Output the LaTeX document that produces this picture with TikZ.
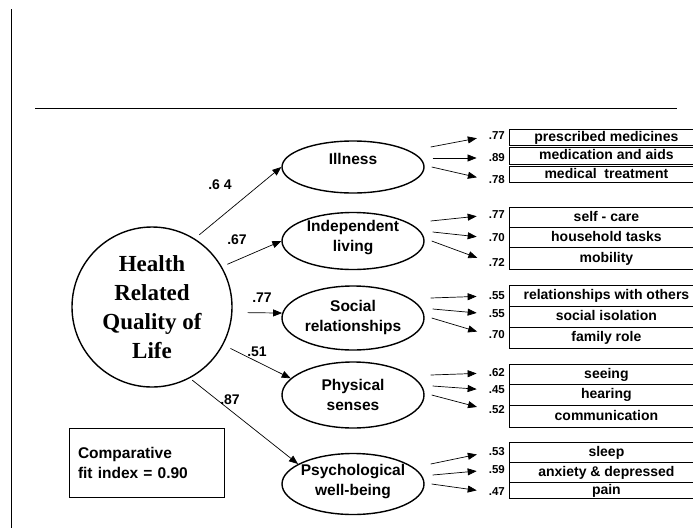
\documentclass[tikz,border=0pt]{standalone}
\usepackage{fontspec}
\setmainfont{Liberation Sans}
\newfontfamily\hrqlfont{Liberation Serif}
\usetikzlibrary{shapes.geometric,arrows.meta}
\tikzset{
  latent/.style={draw, ellipse, line width=1.4pt, inner sep=0pt},
  ltext/.style={align=center, inner sep=0pt, font=\fontsize{15.5}{20}\selectfont\bfseries},
  item/.style={draw, rectangle, line width=0.8pt, anchor=west, minimum width=194pt, minimum height=20pt, inner sep=0pt, text height=9pt, text depth=1pt, font=\fontsize{14}{16}\selectfont\bfseries},
  load/.style={anchor=east, inner sep=0pt, font=\fontsize{11.5}{12}\selectfont\bfseries},
  coef/.style={inner sep=0pt, font=\fontsize{14}{14}\selectfont\bfseries},
  regr/.style={line width=0.7pt, -{Triangle[length=9pt,width=7pt]}},
  ind/.style={line width=0.7pt, -{Triangle[length=9pt,width=7pt]}, shorten >=12pt}
}
\begin{document}
\begin{tikzpicture}[x=1pt,y=-1pt]
\useasboundingbox (0,0) rectangle (693,528);
\draw[line width=0.8pt] (11,9) -- (11,528);
\draw[line width=0.8pt] (35,108) -- (677,108);
\node[circle, draw, line width=1.4pt, minimum size=160pt, inner sep=0pt, align=center, font=\hrqlfont\bfseries\fontsize{23}{29}\selectfont] (hrql) at (152,307) {Health\\Related\\Quality of\\Life};
\node[latent, minimum width=142pt, minimum height=52pt] (ill) at (353,167) {};
\node[latent, minimum width=142pt, minimum height=57pt] (ind) at (353,241) {};
\node[latent, minimum width=142pt, minimum height=64pt] (soc) at (353,318) {};
\node[latent, minimum width=142pt, minimum height=66pt] (phy) at (353,395) {};
\node[latent, minimum width=142pt, minimum height=61pt] (psy) at (353,484) {};
\node[ltext] (illT) at (353,159) {Illness};
\node[ltext] (indT) at (353,238) {Independent\\living};
\node[ltext] (socT) at (353,317) {Social\\relationships};
\node[ltext] (phyT) at (353,395) {Physical\\senses};
\node[ltext] (psyT) at (353,482) {Psychological\\well-being};
\draw[regr, shorten <=6pt] (hrql.58) -- (ill.west);
\draw[regr, shorten <=6pt] (hrql.30) -- (ind.west);
\draw[regr] ([xshift=15pt]hrql.-4) -- (soc.176);
\draw[regr, shorten <=8pt] (hrql.-28) -- (phy.165);
\draw[regr, shorten <=3pt] (hrql.-62) -- (psy.160);
\node[coef] (c1) at (220,185) {.6 4};
\node[coef] (c2) at (237,240) {.67};
\node[coef] (c3) at (262,298) {.77};
\node[coef] (c4) at (257,352) {.51};
\node[coef] (c5) at (230,400) {.87};
\node[item, minimum height=16pt] (i11) at (509,137) {prescribed medicines};
\node[item, minimum height=17pt] (i12) at (509,155.5) {medication and aids};
\node[item, minimum height=16pt] (i13) at (509,174) {medical\ \ treatment};
\node[item] (i21) at (509,217) {self - care};
\node[item] (i22) at (509,237) {household tasks};
\node[item, minimum height=22pt] (i23) at (509,258) {mobility};
\node[item, minimum height=21pt] (i31) at (509,295.5) {relationships with others};
\node[item, minimum height=21pt] (i32) at (509,316.5) {social isolation};
\node[item, minimum height=21pt] (i33) at (509,337.5) {family role};
\node[item] (i41) at (509,374) {seeing};
\node[item, minimum height=21pt] (i42) at (509,394.5) {hearing};
\node[item, minimum height=22pt] (i43) at (509,416) {communication};
\node[item] (i51) at (509,452) {sleep};
\node[item] (i52) at (509,472) {anxiety \& depressed};
\node[item, minimum height=16pt] (i53) at (509,490) {pain};
\node[load] (l11) at (505,136) {.77};
\node[load] (l12) at (505,158) {.89};
\node[load] (l13) at (505,180) {.78};
\node[load] (l21) at (505,215) {.77};
\node[load] (l22) at (505,238) {.70};
\node[load] (l23) at (505,262) {.72};
\node[load] (l31) at (505,296) {.55};
\node[load] (l32) at (505,314) {.55};
\node[load] (l33) at (505,335) {.70};
\node[load] (l41) at (505,373) {.62};
\node[load] (l42) at (505,390) {.45};
\node[load] (l43) at (505,410) {.52};
\node[load] (l51) at (505,452) {.53};
\node[load] (l52) at (505,470) {.59};
\node[load] (l53) at (505,492) {.47};
\foreach \e/\a/\b/\c in {ill/l11/l12/l13, ind/l21/l22/l23, soc/l31/l32/l33, phy/l41/l42/l43, psy/l51/l52/l53} {
  \draw[ind] ([shift={(6,-20)}]\e.east) -- (\a.west);
  \draw[ind] ([shift={(8,-9)}]\e.east) -- (\b.west);
  \draw[ind] ([shift={(7,0)}]\e.east) -- (\c.west);
}
\node[draw, line width=0.8pt, minimum width=155pt, minimum height=69pt, text width=137pt, align=left, inner sep=0pt, font=\fontsize{15.5}{20}\selectfont\bfseries] (cfi) at (146.5,462.5) {Comparative\\fit index = 0.90};
\end{tikzpicture}
\end{document}
